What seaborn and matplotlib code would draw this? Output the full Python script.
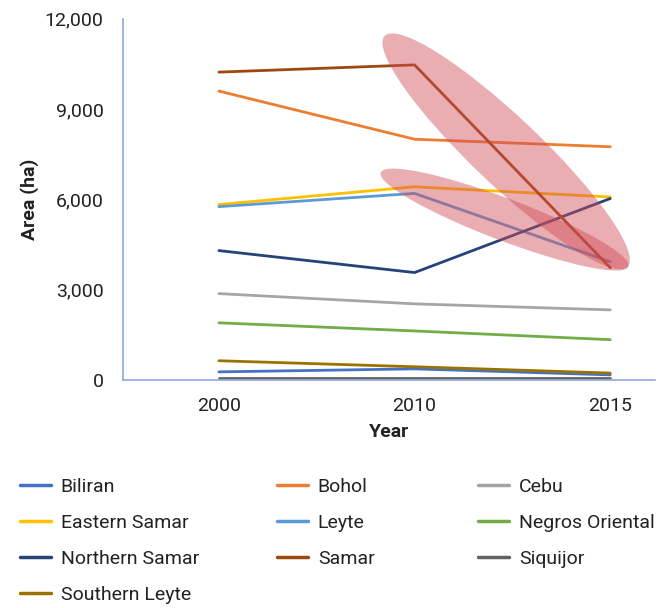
import pandas as pd
import numpy as np
import seaborn as sns
from matplotlib import pyplot as plt
from matplotlib import transforms
from matplotlib.lines import Line2D
from matplotlib.patches import Ellipse

sns.set_theme(style="white")
plt.rcParams['font.family'] = ['Roboto', 'DejaVu Sans']

years = ['2000', '2010', '2015']
provinces = ['Biliran', 'Bohol', 'Cebu', 'Eastern Samar', 'Leyte', 'Negros Oriental',
             'Northern Samar', 'Samar', 'Siquijor', 'Southern Leyte']

biliran = [270, 370, 170]
bohol = [9600, 8000, 7750]
cebu = [2870, 2530, 2330]
eastern_samar = [5830, 6420, 6080]
leyte = [5760, 6200, 3930]
negros_oriental = [1900, 1630, 1340]
northern_samar = [4300, 3570, 6030]
samar = [10230, 10470, 3730]
siquijor = [80, 80, 80]
southern_leyte = [640, 440, 230]

yticks = [0, 3000, 6000, 9000, 12000]

colors = {
    'Biliran': '#4472c4', 'Bohol': '#ed7d31', 'Cebu': '#a5a5a5',
    'Eastern Samar': '#ffc000', 'Leyte': '#5b9bd5', 'Negros Oriental': '#70ad47',
    'Northern Samar': '#264478', 'Samar': '#9e480e', 'Siquijor': '#636363',
    'Southern Leyte': '#997300',
}

series = [biliran, bohol, cebu, eastern_samar, leyte, negros_oriental,
          northern_samar, samar, siquijor, southern_leyte]
df = pd.DataFrame([(y, p, v) for p, vals in zip(provinces, series) for y, v in zip(years, vals)],
                  columns=['Year', 'Province', 'Area'])

fig = plt.figure(figsize=(6.67, 6.08), dpi=100)
ax = fig.add_axes([0.1844, 0.375, 0.798, 0.594])

sns.lineplot(data=df, x='Year', y='Area', hue='Province', hue_order=provinces,
             palette=colors, linewidth=2, legend=False, sort=False, ax=ax)

ax.set_xlim(-0.49, 2.23)
ax.set_ylim(0, 12000)
ax.set_yticks(yticks)
ax.set_yticklabels([f"{v:,}" for v in yticks])
ax.tick_params(axis='both', length=0, labelsize=14, colors='#222222')
ax.tick_params(axis='y', pad=14)
ax.tick_params(axis='x', pad=12)
for s in ['top', 'right']:
    ax.spines[s].set_visible(False)
for s in ['left', 'bottom']:
    ax.spines[s].set_color('#8eaadb')
    ax.spines[s].set_linewidth(1.2)
ax.grid(False)
ax.set_xlabel('Year', fontsize=14, fontweight='bold', color='#222222', labelpad=6)
ax.set_ylabel('Area (ha)', fontsize=14, fontweight='bold', color='#222222', labelpad=4)

# highlight ellipses (sizes in inches, centred in data coords)
hl = [((1.468, 7600), 3.35, 0.68, -43.5), ((1.46, 5330), 2.65, 0.42, -20.8)]
for (cx, cy), w, h, ang in hl:
    tr = fig.dpi_scale_trans + transforms.ScaledTranslation(cx, cy, ax.transData)
    ax.add_patch(Ellipse((0, 0), w, h, angle=ang, transform=tr,
                         facecolor='#d04b55', alpha=0.45, edgecolor='none', zorder=5))

# legend in three columns, row-major order
cols = [['Biliran', 'Eastern Samar', 'Northern Samar', 'Southern Leyte'],
        ['Bohol', 'Leyte', 'Samar'],
        ['Cebu', 'Negros Oriental', 'Siquijor']]
col_x = [20, 277, 478]
for names, x in zip(cols, col_x):
    handles = [Line2D([0], [0], color=colors[n], lw=2.5) for n in names]
    fig.legend(handles=handles, labels=names, loc='upper left',
               bbox_to_anchor=(x / 667, 1 - 478 / 608), frameon=False,
               fontsize=14, borderpad=0, borderaxespad=0, handlelength=1.6,
               handletextpad=0.5, labelspacing=0.92, labelcolor='#222222')

plt.savefig('out.png', dpi=100)
